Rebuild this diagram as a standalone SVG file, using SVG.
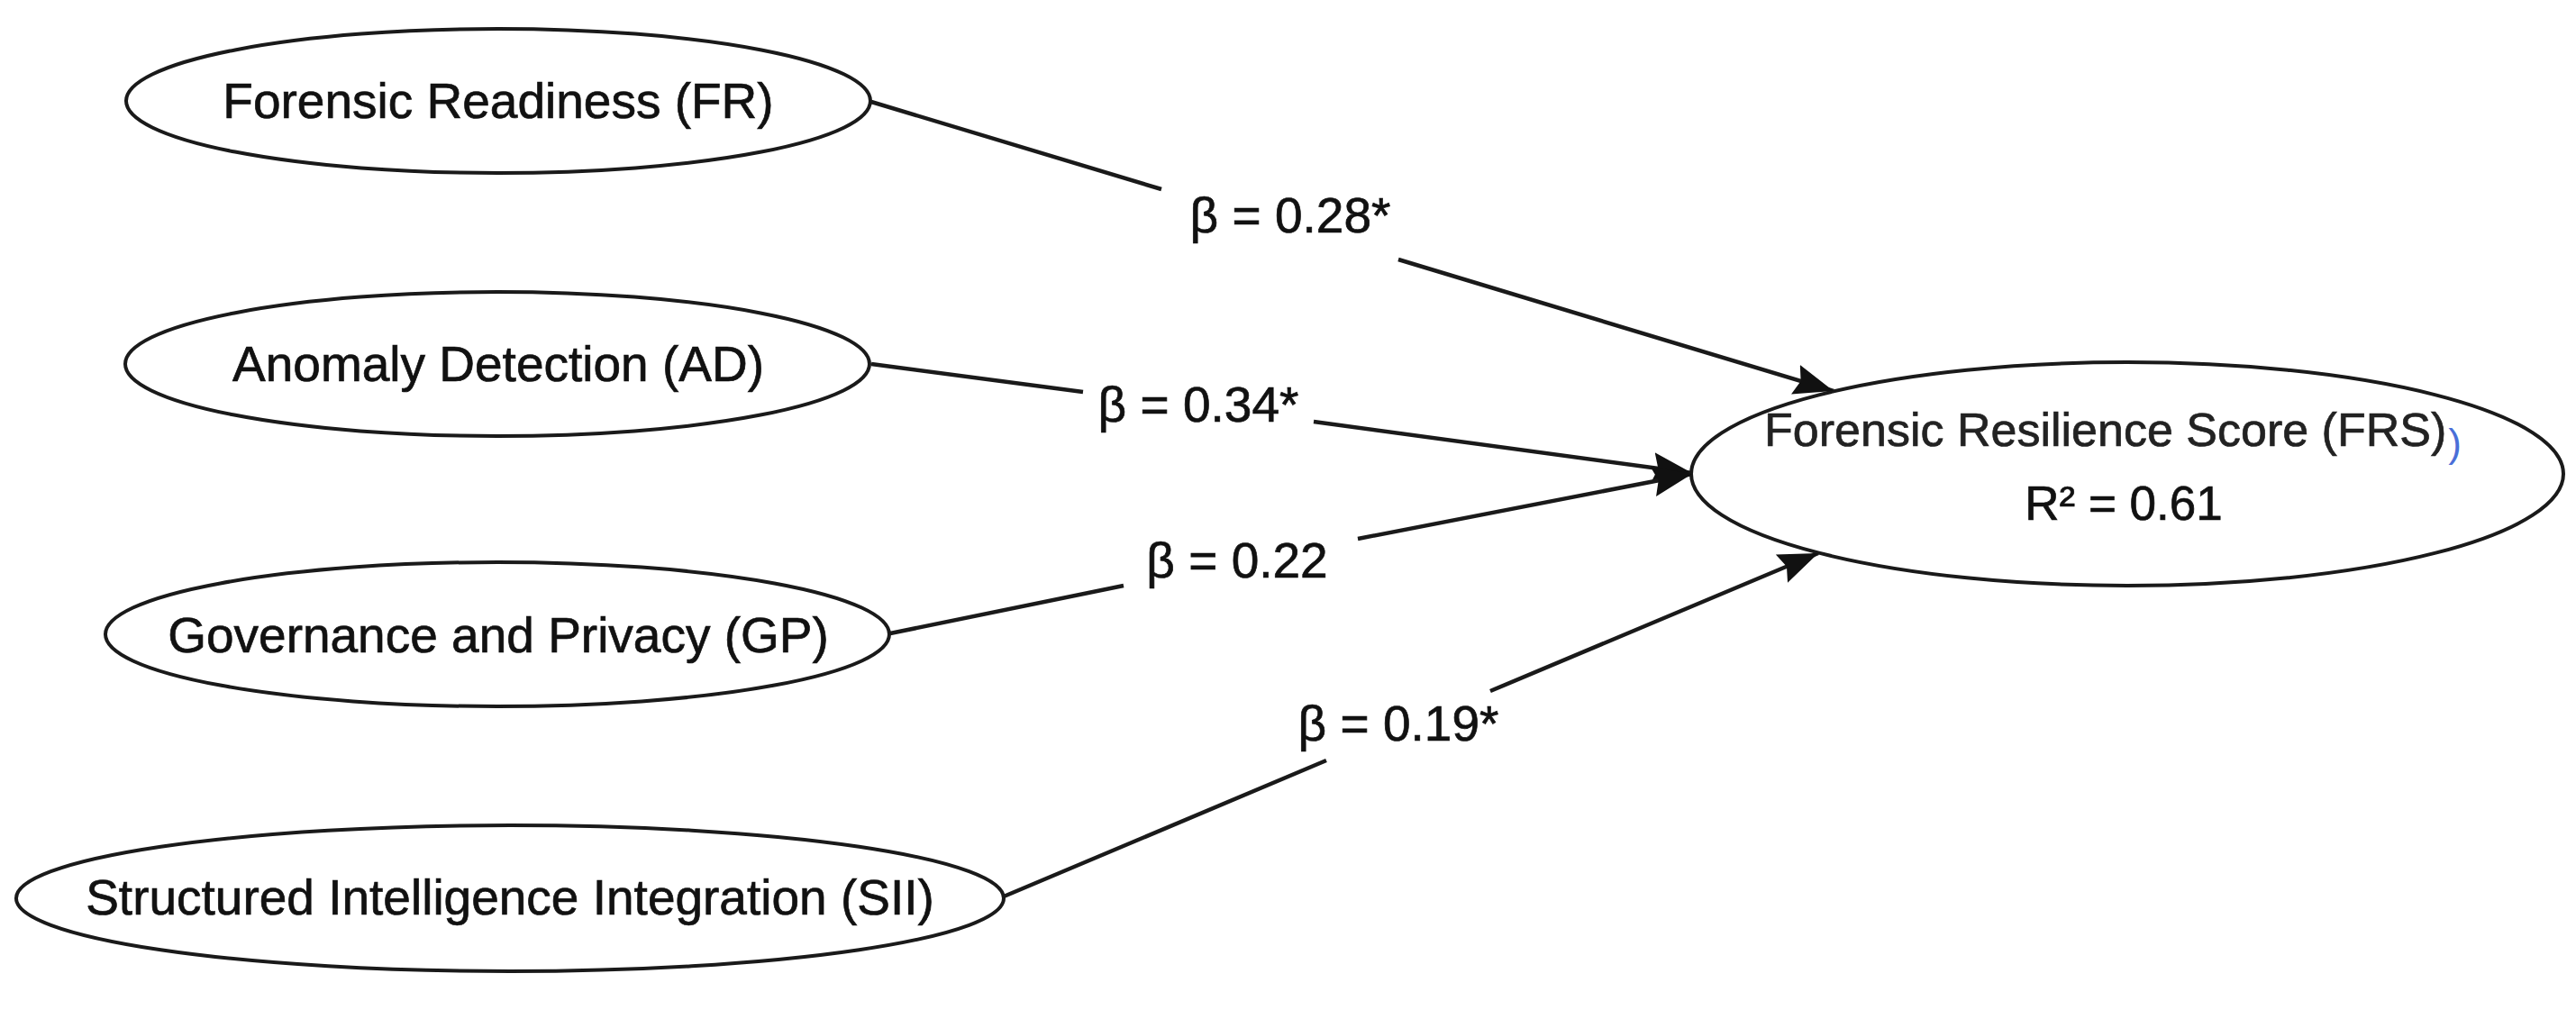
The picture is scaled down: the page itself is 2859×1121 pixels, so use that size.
<svg xmlns="http://www.w3.org/2000/svg" width="2859" height="1121" viewBox="0 0 2859 1121">
  <style>
    .node ellipse { fill: #ffffff; stroke: #1a1a1a; stroke-width: 4; }
    .lbl { font-family: "Liberation Sans", Arial, sans-serif; font-size: 55px; fill: #111111; stroke: #111111; stroke-width: 0.7; text-anchor: middle; }
    .edge { fill: none; stroke: #1a1a1a; stroke-width: 4.5; }
    .beta { font-family: "Liberation Sans", Arial, sans-serif; font-size: 55px; fill: #111111; stroke: #111111; stroke-width: 0.7; text-anchor: middle; }
  </style>
  <defs>
    <marker id="arrow" markerUnits="userSpaceOnUse" markerWidth="46" markerHeight="36" refX="44" refY="18" orient="auto">
      <path d="M0,1 L44,18 L0,35 L6,18 Z" fill="#111111"/>
    </marker>
  </defs>
  <rect width="2859" height="1121" fill="#ffffff"/>

  <g id="node-fr" class="node">
    <ellipse cx="553" cy="112" rx="413" ry="80"/>
    <text class="lbl" x="553" y="131">Forensic Readiness (FR)</text>
  </g>
  <g id="node-ad" class="node">
    <ellipse cx="552" cy="404" rx="413" ry="80"/>
    <text class="lbl" x="553" y="423">Anomaly Detection (AD)</text>
  </g>
  <g id="node-gp" class="node">
    <ellipse cx="552" cy="704" rx="435" ry="80"/>
    <text class="lbl" x="553" y="724">Governance and Privacy (GP)</text>
  </g>
  <g id="node-sii" class="node">
    <ellipse cx="566" cy="997" rx="548" ry="81"/>
    <text class="lbl" x="566" y="1015">Structured Intelligence Integration (SII)</text>
  </g>
  <g id="node-frs" class="node">
    <ellipse cx="2361" cy="526" rx="484" ry="124"/>
    <text class="lbl" x="2345" y="495" style="font-size:52px; fill:#222222; stroke:#222222">Forensic Resilience Score (FRS)<tspan dx="2" dy="12" style="font-size:44px; fill:#4a6fd8; stroke:none">)</tspan></text>
    <text class="lbl" x="2357" y="577" style="font-size:53px">R² = 0.61</text>
  </g>

  <g id="connectors">
    <path class="edge" d="M967,113 L1289,210 M1552,288 L2035,434" marker-end="url(#arrow)"/>
    <path class="edge" d="M967,404 L1202,435 M1458,468 L1878,525" marker-end="url(#arrow)"/>
    <path class="edge" d="M988,703 L1247,650 M1507,598 L1878,526" marker-end="url(#arrow)"/>
    <path class="edge" d="M1114,995 L1472,844 M1654,767 L2018,614" marker-end="url(#arrow)"/>
    <text class="beta" x="1432" y="258">β = 0.28*</text>
    <text class="beta" x="1330" y="468">β = 0.34*</text>
    <text class="beta" x="1373" y="641">β = 0.22</text>
    <text class="beta" x="1552" y="822">β = 0.19*</text>
  </g>
</svg>
